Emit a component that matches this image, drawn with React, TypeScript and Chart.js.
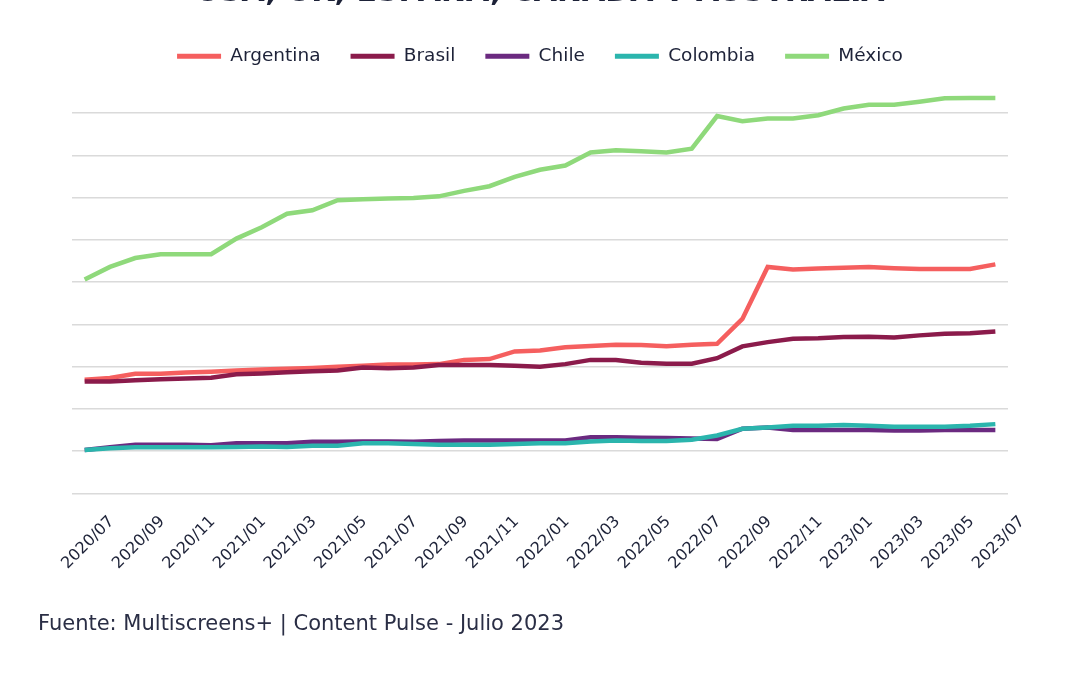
import React, { useEffect, useRef } from "react";
import { Chart, registerables } from "chart.js";

Chart.register(...registerables);

const months = [
  "2020/07", "2020/08", "2020/09", "2020/10", "2020/11", "2020/12",
  "2021/01", "2021/02", "2021/03", "2021/04", "2021/05", "2021/06",
  "2021/07", "2021/08", "2021/09", "2021/10", "2021/11", "2021/12",
  "2022/01", "2022/02", "2022/03", "2022/04", "2022/05", "2022/06",
  "2022/07", "2022/08", "2022/09", "2022/10", "2022/11", "2022/12",
  "2023/01", "2023/02", "2023/03", "2023/04", "2023/05", "2023/06",
  "2023/07",
];

const argentina = [
  26.9, 27.3, 28.3, 28.3, 28.6, 28.8, 29.1, 29.3, 29.5, 29.7, 30.0, 30.2,
  30.5, 30.5, 30.6, 31.6, 31.8, 33.6, 33.8, 34.6, 34.9, 35.2, 35.1, 34.8,
  35.2, 35.4, 41.3, 53.6, 53.0, 53.2, 53.4, 53.6, 53.3, 53.1, 53.1, 53.1,
  54.2,
];

const brasil = [
  26.5, 26.5, 26.8, 27.0, 27.2, 27.4, 28.2, 28.4, 28.7, 28.9, 29.1, 29.8,
  29.6, 29.8, 30.4, 30.4, 30.4, 30.2, 30.0, 30.6, 31.6, 31.6, 30.9, 30.7,
  30.7, 32.0, 34.8, 35.8, 36.6, 36.7, 37.0, 37.1, 36.9, 37.4, 37.8, 37.9,
  38.3,
];

const chile = [
  10.3, 10.9, 11.5, 11.5, 11.5, 11.4, 11.9, 11.9, 11.9, 12.2, 12.2, 12.3,
  12.3, 12.2, 12.4, 12.5, 12.5, 12.5, 12.5, 12.5, 13.3, 13.3, 13.2, 13.1,
  13.0, 12.9, 15.3, 15.6, 15.0, 15.0, 15.0, 15.0, 14.9, 14.9, 15.0, 15.0,
  15.0,
];

const colombia = [
  10.3, 10.7, 10.9, 10.9, 10.9, 10.9, 11.0, 11.1, 11.0, 11.3, 11.3, 11.9,
  11.9, 11.7, 11.5, 11.5, 11.5, 11.7, 11.9, 11.9, 12.3, 12.5, 12.4, 12.4,
  12.7, 13.7, 15.3, 15.6, 16.0, 16.0, 16.2, 16.0, 15.8, 15.8, 15.8, 16.0,
  16.4,
];

const mexico = [
  50.6, 53.6, 55.7, 56.6, 56.6, 56.6, 60.3, 63.0, 66.2, 67.0, 69.4, 69.6,
  69.8, 69.9, 70.3, 71.6, 72.7, 74.9, 76.6, 77.6, 80.7, 81.2, 81.0, 80.7,
  81.6, 89.3, 88.1, 88.7, 88.7, 89.5, 91.1, 92.0, 92.0, 92.7, 93.5, 93.6,
  93.6,
];

const seriesNames = ["Argentina", "Brasil", "Chile", "Colombia", "México"];
const seriesColors = ["#f55f5f", "#8b1b4b", "#6b2a80", "#2bb5ad", "#8fd97b"];
const seriesOrder = [4, 3, 2, 1, 0];

const titleText = "USA, UK, ESPAÑA, CANADÁ Y AUSTRALIA";
const sourceText = "Fuente: Multiscreens+ | Content Pulse - Julio 2023";

const TEXT = "#1d2238";
const FONT = "'DejaVu Sans', sans-serif";

export default function App() {
  const ref = useRef<HTMLCanvasElement>(null);

  useEffect(() => {
    const values = [argentina, brasil, chile, colombia, mexico];
    const chart = new Chart(ref.current as HTMLCanvasElement, {
      type: "line",
      data: {
        labels: months,
        datasets: seriesNames.map((name, i) => ({
          label: name,
          data: values[i],
          borderColor: seriesColors[i],
          backgroundColor: seriesColors[i],
          borderWidth: 4.5,
          pointRadius: 0,
          tension: 0,
          order: seriesOrder[i],
        })),
      },
      options: {
        responsive: false,
        animation: false,
        layout: { padding: { left: 72, right: 72, top: 17, bottom: 83 } },
        plugins: {
          legend: {
            position: "top",
            labels: {
              boxWidth: 44,
              boxHeight: 5,
              padding: 30,
              color: TEXT,
              font: { family: FONT, size: 18.5 },
              sort: (a: any, b: any) => a.datasetIndex - b.datasetIndex,
              generateLabels: (c: any) =>
                Chart.defaults.plugins.legend.labels
                  .generateLabels(c)
                  .map((l: any) => ({ ...l, lineWidth: 0, fillStyle: l.strokeStyle })),
            },
          },
          tooltip: { enabled: false },
        },
        scales: {
          x: {
            offset: true,
            grid: { display: false, drawTicks: false },
            border: { display: false },
            ticks: {
              autoSkip: false,
              minRotation: 45,
              maxRotation: 45,
              labelOffset: 27,
              padding: 19,
              color: TEXT,
              font: { family: FONT, size: 16 },
              callback: (_v: any, i: number) => (i % 2 === 0 ? months[i] : ""),
            },
          },
          y: {
            min: 0,
            max: 98.9,
            ticks: { display: false, stepSize: 10 },
            border: { display: false },
            grid: {
              drawTicks: false,
              lineWidth: 1.5,
              color: (c: any) =>
                c.tick && Math.round(c.tick.value) % 10 === 0 && c.tick.value < 95
                  ? "#dadada"
                  : "rgba(0,0,0,0)",
            },
          },
        },
      },
    });
    return () => chart.destroy();
  }, []);

  return (
    <div
      style={{
        position: "fixed",
        left: 0,
        top: 0,
        width: 1080,
        height: 675,
        overflow: "hidden",
        background: "#ffffff",
      }}
    >
      <canvas ref={ref} width={1080} height={675} style={{ position: "absolute", left: 0, top: 0 }} />
      <div
        style={{
          position: "absolute",
          left: 0,
          width: 1080,
          top: -24,
          textAlign: "center",
          fontFamily: FONT,
          fontWeight: "bold",
          fontSize: 30,
          lineHeight: "30px",
          color: TEXT,
          whiteSpace: "nowrap",
        }}
      >
        {titleText}
      </div>
      <div
        style={{
          position: "absolute",
          left: 38,
          top: 613,
          fontFamily: FONT,
          fontSize: 21,
          lineHeight: "21px",
          color: "#2a2e45",
          whiteSpace: "nowrap",
        }}
      >
        {sourceText}
      </div>
    </div>
  );
}
